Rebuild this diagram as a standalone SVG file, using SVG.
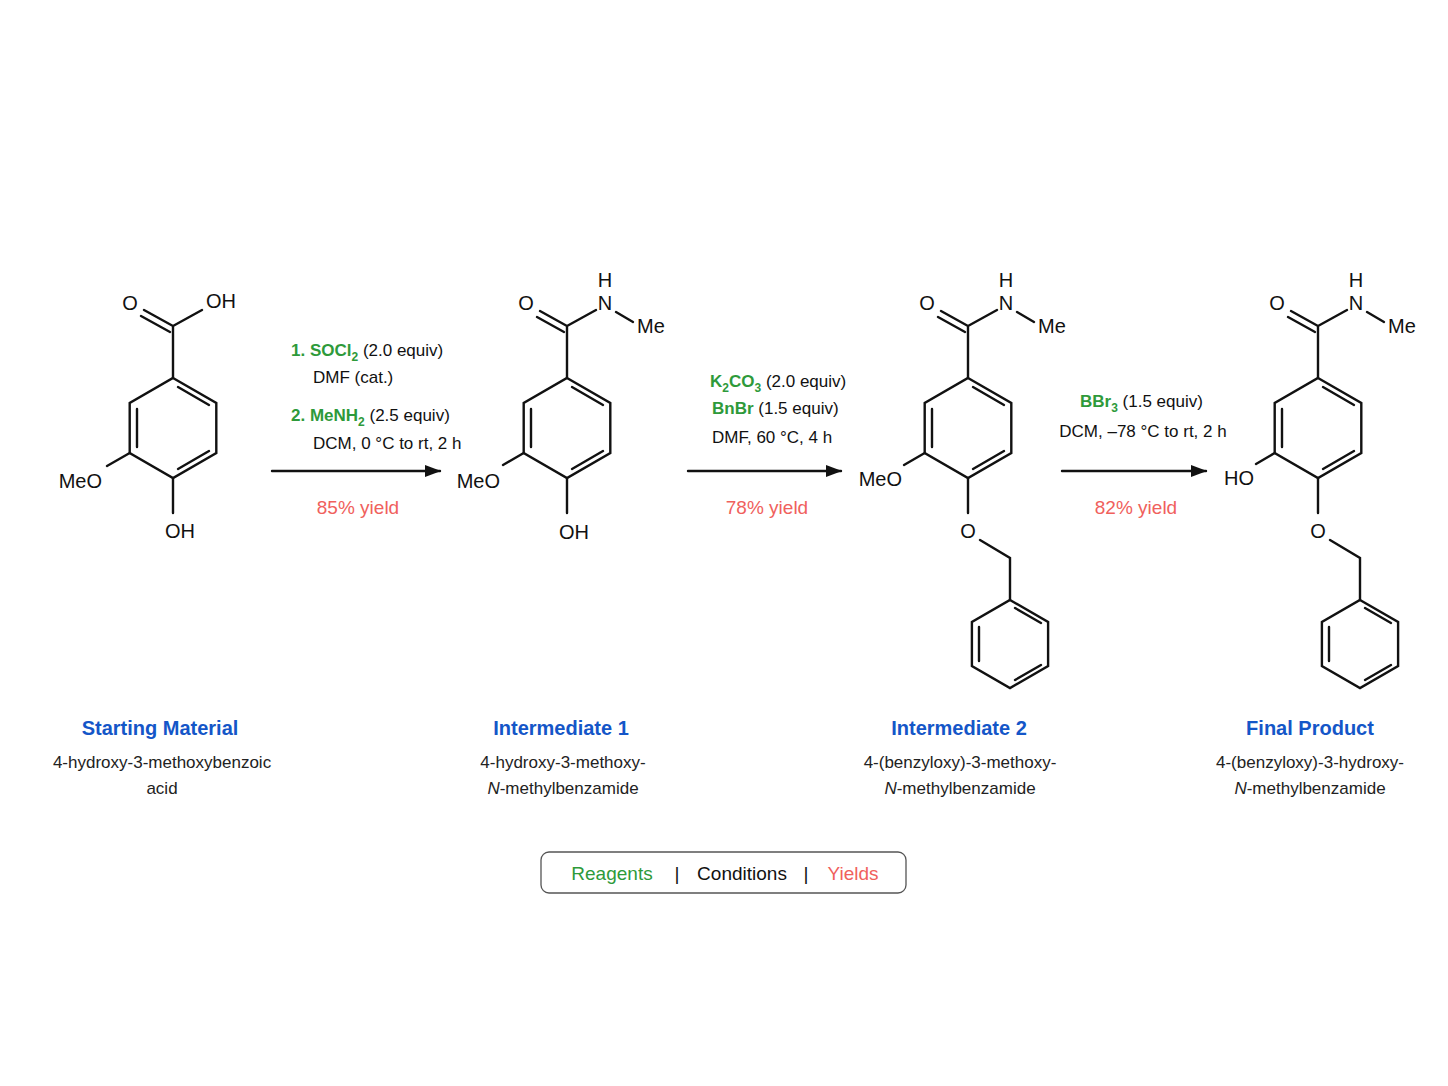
<svg xmlns="http://www.w3.org/2000/svg" width="1448" height="1086" viewBox="0 0 1448 1086">
<defs>
<style>
.b{stroke:#111;stroke-width:2.4;fill:none;stroke-linecap:round}
.a{font-family:"Liberation Sans",Arial,sans-serif;font-size:20px;fill:#111}
.t{font-family:"Liberation Sans",Arial,sans-serif;font-size:17px;fill:#111}
.g{fill:#2e9a3a;font-weight:bold}
.gl{fill:#2e9a3a}
.r{fill:#f0605c}
.y{font-size:19px}
.ti{font-family:"Liberation Sans",Arial,sans-serif;font-size:20px;font-weight:bold;fill:#1456c8;text-anchor:middle}
.n{font-family:"Liberation Sans",Arial,sans-serif;font-size:17px;fill:#222;text-anchor:middle}
</style>
<marker id="ah" markerWidth="16" markerHeight="12" refX="15" refY="6" orient="auto" markerUnits="userSpaceOnUse"><path d="M0,0 L16,6 L0,12 Z" fill="#111"/></marker>
<g id="ring">
<path class="b" d="M0,-50 L43.3,-25 L43.3,25 L0,50 L-43.3,25 L-43.3,-25 Z"/>
<path class="b" d="M-36,-19 L-36,19 M5,-41 L36,-23 M36,23 L5,41"/>
</g>
<g id="bnring">
<path class="b" d="M0,-44 L38.1,-22 L38.1,22 L0,44 L-38.1,22 L-38.1,-22 Z"/>
<path class="b" d="M-31,-17 L-31,17 M5,-36 L31,-21 M31,21 L5,36"/>
</g>
<g id="amide">
<path class="b" d="M0,-50 L0,-102 M0,-102 L-27,-117 M-3,-96 L-30,-111 M0,-102 L29,-118 M49,-116 L66,-106"/>
<text class="a" x="-41" y="-118" text-anchor="middle">O</text>
<text class="a" x="38" y="-118" text-anchor="middle">N</text>
<text class="a" x="38" y="-141" text-anchor="middle">H</text>
<text class="a" x="84" y="-95" text-anchor="middle">Me</text>
</g>
<g id="obn">
<path class="b" d="M0,50 L0,85 M12,112 L42,130 L42,172"/>
<text class="a" x="0" y="110" text-anchor="middle">O</text>
<use href="#bnring" x="42" y="216"/>
</g>
</defs>
<rect width="1448" height="1086" fill="#fff"/>

<g id="sm" transform="translate(173,428)">
<use href="#ring"/>
<path class="b" d="M0,-50 L0,-102 M0,-102 L-29,-118 M-3,-96 L-32,-112 M0,-102 L29,-118 M-43.3,25 L-66,38 M0,50 L0,85"/>
<text class="a" x="-43" y="-118" text-anchor="middle">O</text>
<text class="a" x="33" y="-120">OH</text>
<text class="a" x="-71" y="60" text-anchor="end">MeO</text>
<text class="a" x="-8" y="110">OH</text>
<text class="ti" x="-13" y="307">Starting Material</text>
<text class="n" x="-11" y="340">4-hydroxy-3-methoxybenzoic</text>
<text class="n" x="-11" y="366">acid</text>
</g>

<g id="int1" transform="translate(567,428)">
<use href="#ring"/>
<use href="#amide"/>
<path class="b" d="M-43.3,25 L-64,37 M0,50 L0,85"/>
<text class="a" x="-67" y="60" text-anchor="end">MeO</text>
<text class="a" x="-8" y="111">OH</text>
<text class="ti" x="-6" y="307">Intermediate 1</text>
<text class="n" x="-4" y="340">4-hydroxy-3-methoxy-</text>
<text class="n" x="-4" y="366"><tspan font-style="italic">N</tspan>-methylbenzamide</text>
</g>

<g id="int2" transform="translate(968,428)">
<use href="#ring"/>
<use href="#amide"/>
<use href="#obn"/>
<path class="b" d="M-43.3,25 L-64,37"/>
<text class="a" x="-66" y="58" text-anchor="end">MeO</text>
<text class="ti" x="-9" y="307">Intermediate 2</text>
<text class="n" x="-8" y="340">4-(benzyloxy)-3-methoxy-</text>
<text class="n" x="-8" y="366"><tspan font-style="italic">N</tspan>-methylbenzamide</text>
</g>

<g id="fp" transform="translate(1318,428)">
<use href="#ring"/>
<use href="#amide"/>
<use href="#obn"/>
<path class="b" d="M-43.3,25 L-62,36"/>
<text class="a" x="-64" y="57" text-anchor="end">HO</text>
<text class="ti" x="-8" y="307">Final Product</text>
<text class="n" x="-8" y="340">4-(benzyloxy)-3-hydroxy-</text>
<text class="n" x="-8" y="366"><tspan font-style="italic">N</tspan>-methylbenzamide</text>
</g>

<g id="connectors">
<line class="b" x1="272" y1="471" x2="440" y2="471" marker-end="url(#ah)"/>
<line class="b" x1="688" y1="471" x2="841" y2="471" marker-end="url(#ah)"/>
<line class="b" x1="1062" y1="471" x2="1206" y2="471" marker-end="url(#ah)"/>
</g>

<g id="step1">
<text class="t" x="291" y="356"><tspan class="g">1. SOCl<tspan font-size="12" dy="5">2</tspan></tspan><tspan dy="-5"> (2.0 equiv)</tspan></text>
<text class="t" x="313" y="383">DMF (cat.)</text>
<text class="t" x="291" y="421"><tspan class="g">2. MeNH<tspan font-size="12" dy="5">2</tspan></tspan><tspan dy="-5"> (2.5 equiv)</tspan></text>
<text class="t" x="313" y="449">DCM, 0 °C to rt, 2 h</text>
<text class="t r y" x="358" y="514" text-anchor="middle">85% yield</text>
</g>
<g id="step2">
<text class="t" x="710" y="387"><tspan class="g">K<tspan font-size="12" dy="5">2</tspan><tspan dy="-5">CO</tspan><tspan font-size="12" dy="5">3</tspan></tspan><tspan dy="-5"> (2.0 equiv)</tspan></text>
<text class="t" x="712" y="414"><tspan class="g">BnBr</tspan> (1.5 equiv)</text>
<text class="t" x="712" y="443">DMF, 60 °C, 4 h</text>
<text class="t r y" x="767" y="514" text-anchor="middle">78% yield</text>
</g>
<g id="step3">
<text class="t" x="1080" y="407"><tspan class="g">BBr<tspan font-size="12" dy="5">3</tspan></tspan><tspan dy="-5"> (1.5 equiv)</tspan></text>
<text class="t" x="1143" y="437" text-anchor="middle">DCM, –78 °C to rt, 2 h</text>
<text class="t r y" x="1136" y="514" text-anchor="middle">82% yield</text>
</g>

<g id="legend">
<rect x="541" y="852" width="365" height="41" rx="8" fill="#fff" stroke="#555" stroke-width="1.3"/>
<text class="t gl y" x="612" y="880" text-anchor="middle">Reagents</text>
<text class="t y" x="677" y="880" text-anchor="middle">|</text>
<text class="t y" x="742" y="880" text-anchor="middle">Conditions</text>
<text class="t y" x="806" y="880" text-anchor="middle">|</text>
<text class="t r y" x="853" y="880" text-anchor="middle">Yields</text>
</g>
</svg>
